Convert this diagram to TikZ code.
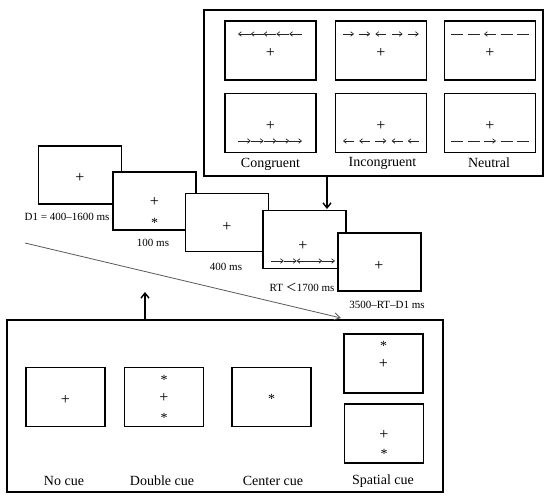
\documentclass[tikz,border=0pt]{standalone}
\usepackage{fontspec}
\setmainfont{Liberation Serif}
\newfontfamily\cjk{Noto Sans CJK SC}
\usetikzlibrary{arrows.meta}
\tikzset{
  screen/.style={draw, line width=1.5pt, fill=white, inner sep=0pt},
  stim/.style={screen, minimum width=91pt, minimum height=59pt},
  seq/.style={screen, minimum width=83pt, minimum height=58pt},
  cuebx/.style={screen, minimum width=79pt, minimum height=59pt},
  frame/.style={draw, line width=1.4pt, inner sep=0pt},
  lab/.style={font=\fontsize{14}{16}\selectfont, inner sep=0pt},
  tlab/.style={font=\fontsize{11}{13}\selectfont, inner sep=0pt},
  fix/.style={font=\fontsize{16}{16}\selectfont, inner sep=0pt},
  ast/.style={font=\fontsize{14}{14}\selectfont, inner sep=0pt},
  fl/.style={line width=0.7pt, black!85},
  L/.style={{Straight Barb[length=2.8pt,width=4.5pt]}-},
  R/.style={-{Straight Barb[length=2.8pt,width=4.5pt]}},
  N/.style={},
  bigarrow/.style={line width=1.4pt, -{Straight Barb[length=5pt,width=8pt]}},
  thinarrow/.style={line width=0.8pt, black!65, -{Straight Barb[length=6pt,width=7pt]}}
}
\begin{document}
\begin{tikzpicture}[x=1pt,y=-1pt]
\useasboundingbox (0,0) rectangle (550,500);
% ---------- top flanker frame ----------
\node[frame, minimum width=339pt, minimum height=166pt] (stimbox) at (373.5,93) {};
\node[stim] (s1) at (270.5,50.5) {};
\node[stim] (s2) at (381,50.5) {};
\node[stim] (s3) at (490,50.5) {};
\node[stim] (s4) at (270.5,123) {};
\node[stim] (s5) at (381,123) {};
\node[stim] (s6) at (490,123) {};
\foreach \n/\y in {s1/53,s2/53,s3/53,s4/126,s5/126,s6/126}
  \node[fix] at (\n.center |- 0,\y) {+};
% row 1 flankers
\foreach \i/\d in {0/L,1/L,2/L,3/L,4/L}
  \draw[fl,\d] (238+\i*12.8,34) -- ++(12.8,0);
\foreach \i/\d in {0/R,1/R,2/L,3/R,4/R}
  \draw[fl,\d] (343+\i*16.2,34) -- ++(11,0);
\foreach \i/\d in {0/N,1/N,2/L,3/N,4/N}
  \draw[fl,\d] (451+\i*16.5,34) -- ++(12,0);
% row 2 flankers
\foreach \i/\d in {0/R,1/R,2/R,3/R,4/R}
  \draw[fl,\d] (238+\i*12.8,141) -- ++(12.8,0);
\foreach \i/\d in {0/L,1/L,2/R,3/L,4/L}
  \draw[fl,\d] (343+\i*16.2,141) -- ++(11,0);
\foreach \i/\d in {0/N,1/N,2/R,3/N,4/N}
  \draw[fl,\d] (451+\i*16.5,141) -- ++(12,0);
\node[lab] (lc) at (270.5,164) {Congruent};
\node[lab] (li) at (382.5,163) {Incongruent};
\node[lab] (ln) at (489,163) {Neutral};
% ---------- trial sequence ----------
\node[seq] (A) at (80,175) {};
\node[fix] at (80,178) {+};
\node[seq] (B) at (154.5,201) {};
\node[fix] at (154.5,202) {+};
\node[ast] at (154.5,223) {*};
\node[seq] (C) at (227,222.5) {};
\node[fix] at (227,227) {+};
\node[seq] (D) at (304.5,239.5) {};
\node[fix] at (303,246) {+};
\foreach \i/\d in {0/R,1/R,2/L,3/R,4/R}
  \draw[fl,\d] (271+\i*12.8,261) -- ++(12.8,0);
\node[seq] (E) at (379.5,262) {};
\node[fix] at (379,266) {+};
\node[tlab] (tA) at (67,217) {D1 = 400–1600 ms};
\node[tlab] (tB) at (153,243) {100 ms};
\node[tlab] (tC) at (226,267) {400 ms};
\node[tlab] (tD) at (302,287) {RT {\cjk ＜}1700 ms};
\node[tlab] (tE) at (387,305) {3500–RT–D1 ms};
% ---------- cue frame ----------
\node[frame, minimum width=436pt, minimum height=172pt] (cuebox) at (225,406) {};
\node[cuebx] (c1) at (65.5,397) {};
\node[fix] at (65.5,400) {+};
\node[cuebx] (c2) at (164,397) {};
\node[ast] at (164,380) {*};
\node[fix] at (164,398) {+};
\node[ast] at (164,418) {*};
\node[cuebx] (c3) at (271.5,397) {};
\node[ast] at (271.5,399) {*};
\node[cuebx] (c4) at (383.5,363.5) {};
\node[ast] at (383.5,346) {*};
\node[fix] at (383.5,364) {+};
\node[cuebx] (c5) at (384,433.5) {};
\node[fix] at (384,435) {+};
\node[ast] at (384,454) {*};
\node[lab] (l1) at (64,481) {No cue};
\node[lab] (l2) at (162,481) {Double cue};
\node[lab] (l3) at (273,481) {Center cue};
\node[lab] (l4) at (383,481) {Spatial cue};
% ---------- connectors ----------
\coordinate (dtip) at (327,209);
\draw[bigarrow] (stimbox.south -| dtip) -- (dtip);
\coordinate (utip) at (145,292);
\draw[bigarrow] (cuebox.north -| utip) -- (utip);
\coordinate (gs) at (25,243);
\coordinate (ge) at (341,318);
\draw[thinarrow] (gs) -- (ge);
\end{tikzpicture}
\end{document}
